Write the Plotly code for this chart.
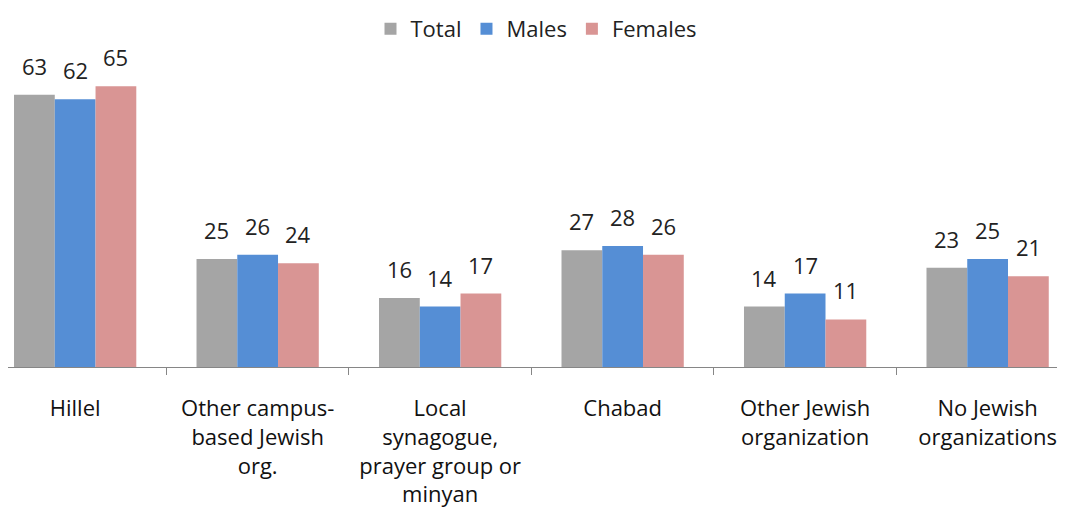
import plotly.graph_objects as go

categories = ["Hillel", "Other campus-<br>based Jewish<br>org.", "Local<br>synagogue,<br>prayer group or<br>minyan",
              "Chabad", "Other Jewish<br>organization", "No Jewish<br>organizations"]
series_names = ["Total", "Males", "Females"]
total = [63, 25, 16, 27, 14, 23]
males = [62, 26, 14, 28, 17, 25]
females = [65, 24, 17, 26, 11, 21]
colors = ["#a5a5a5", "#558ed5", "#d99594"]

values = [total, males, females]
FONT = "Open Sans, Liberation Sans, sans-serif"

fig = go.Figure()
for name, vals, col in zip(series_names, values, colors):
    fig.add_trace(go.Bar(x=categories, y=vals, name=name, marker=dict(color=col, line=dict(width=0))))

# data labels above bars
cat_px = 182.5
bargap = 0.33
bar_w = cat_px * (1 - bargap) / 3
for i, vals in enumerate(values):
    for c, v in zip(categories, vals):
        fig.add_annotation(x=c, y=v, text=str(v), showarrow=False, xref="x", yref="y",
                           yanchor="bottom", yshift=12, xshift=(i - 1) * bar_w,
                           font=dict(size=22, color="#222222", family=FONT))

W, H = 1057, 513
fig.update_layout(
    width=W, height=H,
    margin=dict(l=0, r=0, t=32, b=154, autoexpand=False),
    plot_bgcolor="white", paper_bgcolor="white",
    barmode="group", bargap=bargap, bargroupgap=0,
    font=dict(family=FONT, size=22, color="#222222"),
    legend=dict(orientation="h", x=0.5, xanchor="center", xref="container",
                y=1, yanchor="top", yref="container",
                font=dict(size=22), itemsizing="constant", traceorder="normal",
                itemwidth=30, tracegroupgap=0),
    showlegend=True,
)
fig.update_xaxes(range=[-0.368, 5.424], showline=True, linecolor="#868686", linewidth=1,
                 ticks="outside", tickson="boundaries", ticklen=7, tickcolor="#868686",
                 tickfont=dict(size=22, color="#111111", family=FONT), showgrid=False,
                 automargin=False, ticklabelstandoff=22)
fig.update_yaxes(range=[0, 75.7], visible=False, showgrid=False, automargin=False)

fig.write_html("out.html")
